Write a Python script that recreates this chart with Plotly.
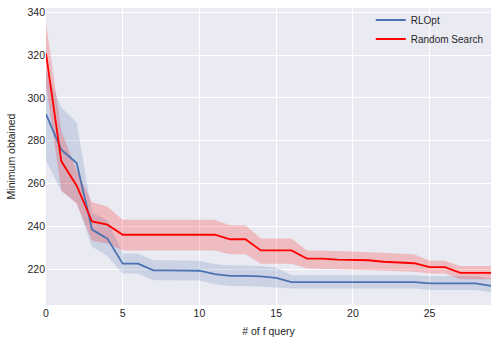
import plotly.graph_objects as go

# f-query index
queries = list(range(30))

# RLOpt mean and band
rl_mean = [292.4, 275.8, 269.6, 238.5, 234.3, 222.6, 222.6, 219.5, 219.5, 219.5,
           219.3, 217.7, 216.9, 216.9, 216.7, 216.0, 214.0, 214.0, 214.0, 214.0,
           214.0, 214.0, 214.0, 214.0, 214.0, 213.4, 213.4, 213.4, 213.4, 212.2]
rl_upper = [313.0, 295.5, 288.5, 246.5, 242.8, 227.3, 227.3, 224.2, 224.2, 224.2,
            224.0, 222.5, 221.8, 221.8, 221.5, 220.8, 217.2, 217.2, 217.2, 217.2,
            217.2, 217.2, 217.2, 217.2, 217.2, 216.8, 216.8, 216.8, 216.8, 215.6]
rl_lower = [270.7, 256.5, 251.0, 230.5, 226.2, 218.0, 218.0, 214.9, 214.9, 214.9,
            214.7, 213.0, 212.2, 212.2, 212.0, 211.5, 211.0, 211.0, 211.0, 211.0,
            211.0, 211.0, 211.0, 211.0, 211.0, 210.3, 210.3, 210.3, 210.3, 209.2]

# Random Search mean and band
rs_mean = [320.8, 270.4, 259.0, 242.3, 240.8, 236.1, 236.1, 236.1, 236.1, 236.1,
           236.1, 236.1, 234.0, 234.0, 228.8, 228.8, 228.8, 225.0, 225.0, 224.5,
           224.4, 224.2, 223.5, 223.3, 222.8, 221.0, 221.0, 218.3, 218.3, 218.3]
rs_upper = [335.0, 284.6, 266.0, 251.3, 249.3, 243.1, 243.1, 243.1, 243.1, 243.1,
            243.1, 243.1, 240.5, 240.5, 234.3, 234.3, 234.3, 228.8, 228.8, 228.5,
            228.3, 228.0, 227.5, 227.3, 227.0, 224.0, 224.0, 221.5, 221.5, 221.5]
rs_lower = [306.0, 256.7, 250.6, 233.3, 232.0, 228.8, 228.8, 228.8, 228.8, 228.8,
            228.8, 228.8, 227.0, 227.0, 222.6, 222.6, 222.6, 220.3, 220.3, 220.0,
            219.8, 219.6, 219.3, 219.0, 218.8, 218.0, 218.0, 215.3, 215.3, 215.3]

BLUE = "#4C72B0"
RED = "#FF0000"
TEXT = "#262626"
FONT = "Liberation Sans, Arial, sans-serif"


def add_band(fig, x, lo, hi, fill):
    fig.add_trace(go.Scatter(x=x, y=hi, mode="lines", line=dict(width=0),
                             showlegend=False, hoverinfo="skip"))
    fig.add_trace(go.Scatter(x=x, y=lo, mode="lines", line=dict(width=0),
                             fill="tonexty", fillcolor=fill,
                             showlegend=False, hoverinfo="skip"))


fig = go.Figure()

add_band(fig, queries, rl_lower, rl_upper, "rgba(76,114,176,0.2)")
add_band(fig, queries, rs_lower, rs_upper, "rgba(255,0,0,0.2)")

fig.add_trace(go.Scatter(x=queries, y=rl_mean, mode="lines", name="RLOpt",
                         line=dict(color=BLUE, width=1.8)))
fig.add_trace(go.Scatter(x=queries, y=rs_mean, mode="lines", name="Random Search",
                         line=dict(color=RED, width=1.8)))

fig.update_layout(
    width=498,
    height=344,
    paper_bgcolor="white",
    plot_bgcolor="#EAEAF2",
    font=dict(family=FONT, size=10.5, color=TEXT),
    margin=dict(l=46, r=7, t=7, b=39),
    legend=dict(x=0.995, y=1.005, xanchor="right", yanchor="top",
                bgcolor="rgba(0,0,0,0)", font=dict(size=10),
                traceorder="normal", tracegroupgap=0, itemwidth=30),
)
fig.update_xaxes(
    range=[0, 29], tickvals=[0, 5, 10, 15, 20, 25],
    showgrid=True, gridcolor="white", gridwidth=1, zeroline=False,
    showline=False, ticks="", automargin=False,
    title=dict(text="# of f query", font=dict(size=10.5), standoff=10),
)
fig.update_yaxes(
    range=[203.3, 342], tickvals=[220, 240, 260, 280, 300, 320, 340],
    showgrid=True, gridcolor="white", gridwidth=1, zeroline=False,
    showline=False, ticks="", automargin=False,
    title=dict(text="Minimum obtained", font=dict(size=10.5), standoff=9),
)

# drop the default page margin so the figure sits at the window origin
fig.write_html("out.html", config={"displayModeBar": False},
               post_script="document.body.style.margin='0';")
